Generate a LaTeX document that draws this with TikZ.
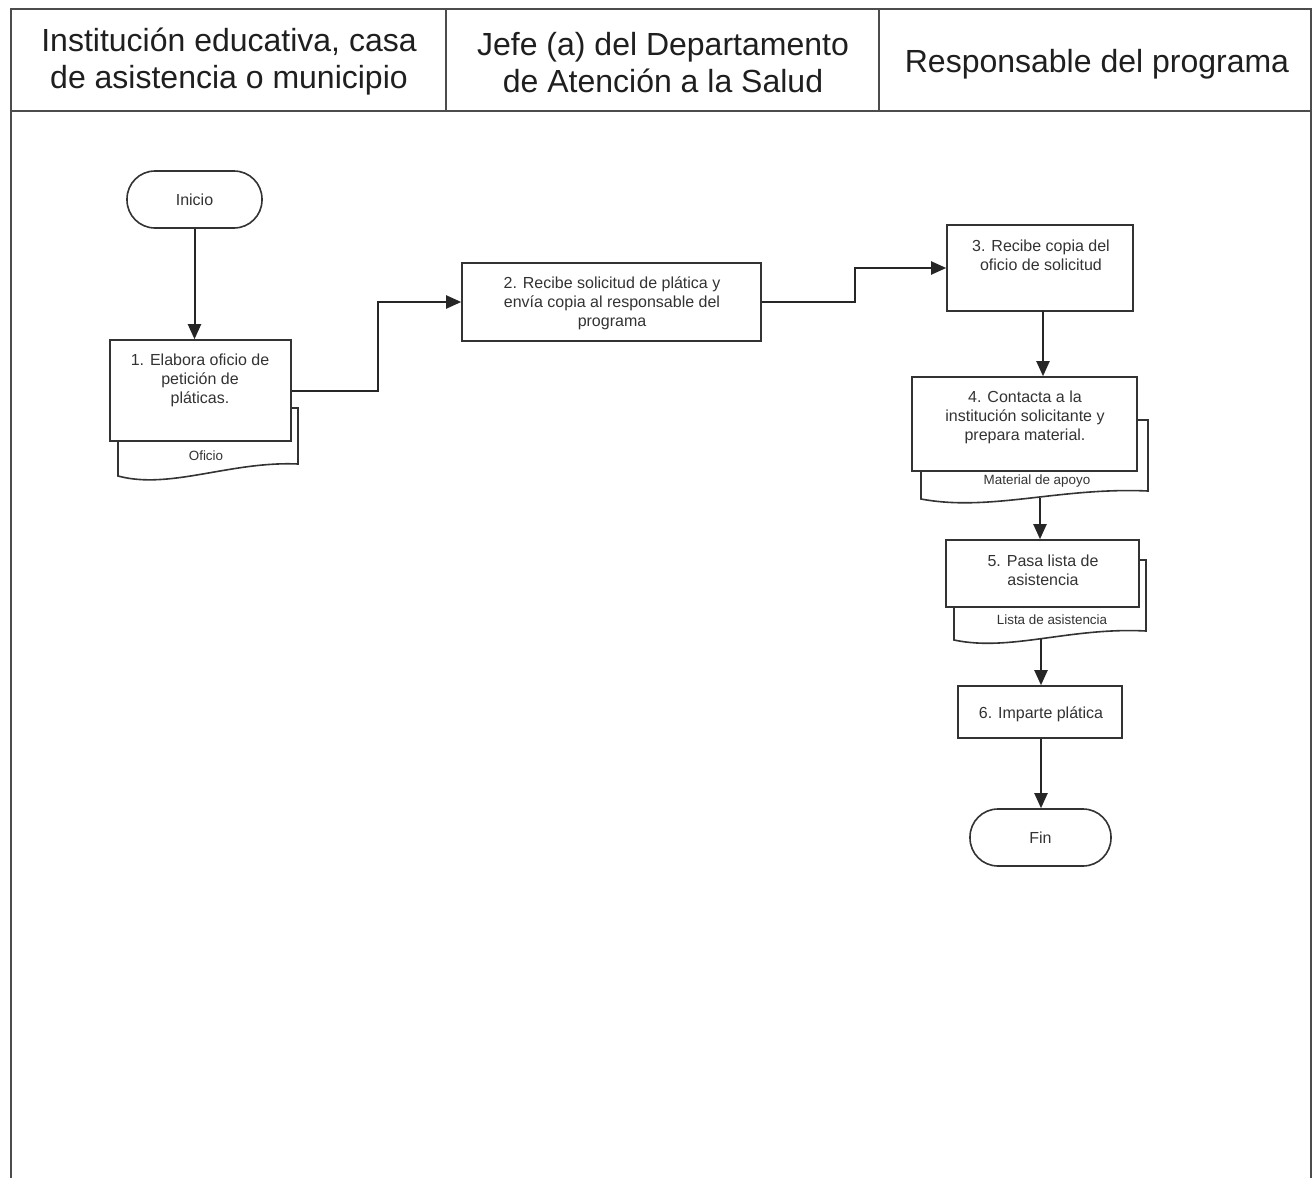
\documentclass[tikz,border=0pt]{standalone}
\usepackage{fontspec}
\setmainfont{Liberation Sans}
\usetikzlibrary{arrows.meta}
\begin{document}
\begin{tikzpicture}[x=0.5pt,y=-0.5pt,
  ink/.style={draw=black!80, line width=0.8pt},
  frame/.style={draw=black!70, line width=0.8pt},
  lane/.style={font=\fontsize{16}{18.5}\selectfont, text=black!88, align=center, inner sep=0pt},
  stepbox/.style={ink, fill=white, rectangle, inner sep=0pt},
  term/.style={ink, fill=white, rectangle, rounded corners=14pt, inner sep=0pt,
    font=\fontsize{8}{9.5}\selectfont, text=black!80},
  txt/.style={font=\fontsize{8}{9.5}\selectfont, text=black!80, align=center, inner sep=0pt},
  doclabel/.style={font=\fontsize{6.7}{8}\selectfont, text=black!80, inner sep=0pt},
  sheet/.style={ink, fill=white},
  flow/.style={draw=black!85, line width=1pt, -{Triangle[length=7.5pt,width=6.5pt]}},
]
\fill[white] (0,0) rectangle (1314,1178);
\useasboundingbox (0,0) rectangle (1314,1178);

% swimlane frame and header
\draw[frame] (11,1178) -- (11,9) -- (1311,9) -- (1311,1178);
\draw[frame] (11,111) -- (1311,111);
\draw[frame] (446,9) -- (446,111);
\draw[frame] (879,9) -- (879,111);
\node[lane] (h1) at (229,62) {Institución educativa, casa\\de asistencia o municipio};
\node[lane] (h2) at (663,63) {Jefe (a) del Departamento\\de Atención a la Salud};
\node[lane] (h3) at (1097,64) {Responsable del programa};

% document sheets behind the activity boxes
\draw[sheet] (118,408) -- (298,408) -- (298,464)
  .. controls (230,461) and (170,490) .. (118,476) -- cycle;
\draw[sheet] (921,420) -- (1148,420) -- (1148,491)
  .. controls (1060,487) and (990,512) .. (921,499) -- cycle;
\draw[sheet] (954,560) -- (1146,560) -- (1146,631)
  .. controls (1070,627) and (1010,652) .. (954,640) -- cycle;
\coordinate (d4) at (1040,498);
\coordinate (d5) at (1041,639);

% terminals
\node[term, minimum width=67.5pt, minimum height=28.5pt] (ini) at (194.5,199.5) {Inicio};
\node[term, minimum width=70.5pt, minimum height=28.5pt] (fin) at (1040.5,837.5) {Fin};

% activity boxes
\node[stepbox, minimum width=90.5pt, minimum height=50.5pt] (b1) at (200.5,390.5) {};
\node[stepbox, minimum width=149.5pt, minimum height=39pt] (b2) at (611.5,302) {};
\node[stepbox, minimum width=93pt, minimum height=43pt] (b3) at (1040,268) {};
\node[stepbox, minimum width=112.5pt, minimum height=47pt] (b4) at (1024.5,424) {};
\node[stepbox, minimum width=96.5pt, minimum height=33.5pt] (b5) at (1042.5,573.5) {};
\node[stepbox, minimum width=82pt, minimum height=26pt] (b6) at (1040,712) {};

% box texts
\node[txt, anchor=north] (t1) at (200,354) {1. Elabora oficio de\\petición de\\pláticas.};
\node[txt] (t2) at (612,303) {2. Recibe solicitud de plática y\\envía copia al responsable del\\programa};
\node[txt, anchor=north] (t3) at (1041,240) {3. Recibe copia del\\oficio de solicitud};
\node[txt, anchor=north] (t4) at (1025,391) {4. Contacta a la\\institución solicitante y\\prepara material.};
\node[txt, anchor=north] (t5) at (1043,555) {5. Pasa lista de\\asistencia};
\node[txt] (t6) at (1041,714) {6. Imparte plática};

% document labels
\node[doclabel] (o1) at (206,456) {Oficio};
\node[doclabel] (o4) at (1037,481) {Material de apoyo};
\node[doclabel] (o5) at (1052,620) {Lista de asistencia};

% connectors
\draw[flow] (ini.south) -- (ini.south |- b1.north);
\draw[flow] (b1.east) -- ++(86,0) |- (b2.west);
\draw[flow] (b2.east) -- ++(93,0) |- (b3.west);
\draw[flow] (1043,311) coordinate (c3) -- (c3 |- b4.north);
\draw[flow] (d4) -- (d4 |- b5.north);
\draw[flow] (d5) -- (d5 |- b6.north);
\draw[flow] (b6.south -| d5) -- (d5 |- fin.north);
\end{tikzpicture}
\end{document}
